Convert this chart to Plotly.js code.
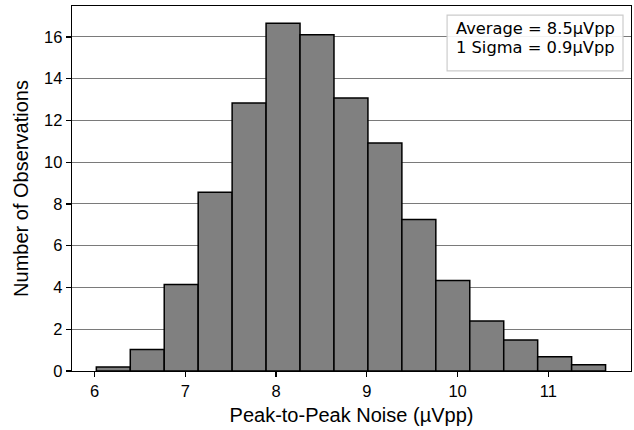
<!DOCTYPE html>
<html>
<head>
<meta charset="utf-8">
<script src="https://cdn.plot.ly/plotly-3.0.1.min.js"></script>
<style>html,body{margin:0;padding:0;background:#fff;}#chart{width:634px;height:430px;}</style>
</head>
<body>
<div id="chart"></div>
<script>
// Histogram bins (µVpp)
const binStart = 6.02;
const binWidth = 0.374;
const counts = [0.19, 1.03, 4.14, 8.56, 12.84, 16.65, 16.10, 13.08, 10.92, 7.25, 4.34, 2.39, 1.48, 0.68, 0.30];
const xTicks = [6, 7, 8, 9, 10, 11];
const yTicks = [0, 2, 4, 6, 8, 10, 12, 14, 16];
const statLines = ["Average = 8.5µVpp", "1 Sigma = 0.9µVpp"];

const centers = counts.map((_, i) => binStart + (i + 0.5) * binWidth);

const axFont = {family: "Liberation Sans, Arial, sans-serif", size: 16.5, color: "#000"};
const titleFont = {family: "Liberation Sans, Arial, sans-serif", size: 20, color: "#000"};

const trace = {
  type: "bar",
  x: centers,
  y: counts,
  width: counts.map(() => binWidth),
  marker: {color: "#808080", line: {color: "#000", width: 1.5}},
  hoverinfo: "skip"
};

const layout = {
  width: 634, height: 430,
  margin: {l: 72, r: 3, t: 6, b: 59},
  paper_bgcolor: "#fff", plot_bgcolor: "#fff",
  showlegend: false,
  bargap: 0,
  xaxis: {
    range: [5.752, 11.91],
    tickvals: xTicks, ticktext: xTicks.map(String),
    ticks: "outside", ticklen: 5, tickwidth: 1.2, tickcolor: "#000",
    showgrid: false, zeroline: false,
    showline: true, linecolor: "#000", linewidth: 1.3, mirror: true,
    tickfont: axFont,
    title: {text: "Peak-to-Peak Noise (µVpp)", font: titleFont, standoff: 9}
  },
  yaxis: {
    range: [0, 17.48],
    tickvals: yTicks, ticktext: yTicks.map(String),
    ticks: "outside", ticklen: 5, tickwidth: 1.2, tickcolor: "#000",
    showgrid: true, gridcolor: "#7a7a7a", gridwidth: 1,
    zeroline: false,
    showline: true, linecolor: "#000", linewidth: 1.3, mirror: true,
    tickfont: axFont,
    title: {text: "Number of Observations", font: titleFont, standoff: 10}
  },
  shapes: [{
    type: "rect", xref: "paper", yref: "paper",
    x0: 0.671, x1: 0.9857, y0: 0.822, y1: 0.975,
    fillcolor: "rgba(255,255,255,0.9)",
    line: {color: "#cccccc", width: 1.2},
    layer: "above"
  }],
  annotations: statLines.map((t, i) => ({
    xref: "paper", yref: "paper",
    x: 0.683, y: [0.937, 0.885][i],
    xanchor: "left", yanchor: "middle",
    text: t, showarrow: false,
    font: {family: "DejaVu Sans, sans-serif", size: 16.3, color: "#000"}
  }))
};

Plotly.newPlot("chart", [trace], layout, {displayModeBar: false, staticPlot: true});
</script>
</body>
</html>
